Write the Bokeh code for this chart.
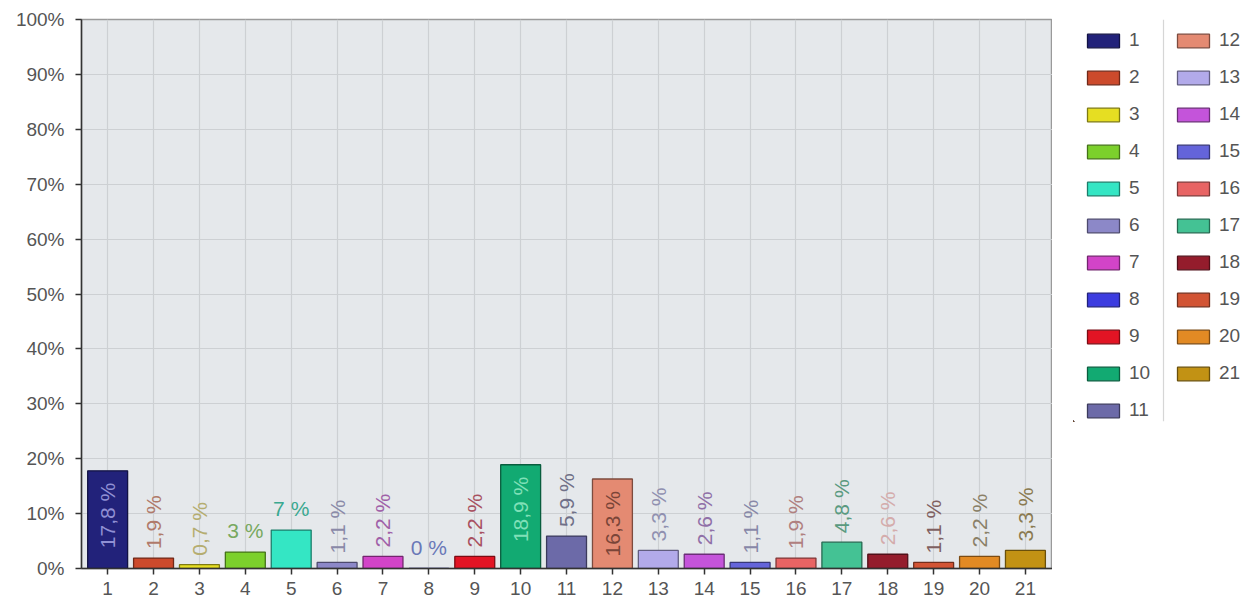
from bokeh.plotting import figure
from bokeh.layouts import row
from bokeh.models import ColumnDataSource, Range1d, FixedTicker, Legend, LegendItem, Span
from bokeh.core.properties import value
from bokeh.embed import file_html
from bokeh.resources import INLINE

# ---- data ----
categories = [str(i) for i in range(1, 22)]
shares = [17.8, 1.9, 0.7, 3, 7, 1.1, 2.2, 0, 2.2, 18.9, 5.9,
          16.3, 3.3, 2.6, 1.1, 1.9, 4.8, 2.6, 1.1, 2.2, 3.3]
bar_colors = ["#22227a", "#cc4a2c", "#e6de22", "#7cd02c", "#34e6c4", "#8c88c8",
              "#d244c8", "#3c3ce0", "#e21424", "#12aa72", "#6c6aa8", "#e48a72",
              "#b2aaea", "#c454da", "#6464da", "#e86464", "#44c294", "#941c2c",
              "#d25434", "#e28a24", "#c29214"]
label_colors = ["#9090d4", "#b07a6a", "#b5ad70", "#78a860", "#3aa890", "#8a8aa8",
                "#a060a8", "#6a78b8", "#a85060", "#80e0b8", "#707088", "#7a4538",
                "#9090b0", "#9070a8", "#8888a8", "#b08080", "#5a9a80", "#d4acac",
                "#806060", "#8a8068", "#8a7a50"]
y_ticks = [0, 10, 20, 30, 40, 50, 60, 70, 80, 90, 100]
y_tick_labels = ["0%", "10%", "20%", "30%", "40%", "50%", "60%", "70%", "80%", "90%", "100%"]


def darker(hex_color, f=0.55):
    r, g, b = (int(hex_color[i:i + 2], 16) for i in (1, 3, 5))
    return "#%02x%02x%02x" % (int(r * f), int(g * f), int(b * f))


def fmt(v):
    s = ("%g" % v).replace(".", ",")
    return s + " %"


xs = list(range(1, len(categories) + 1))
labels = [fmt(v) for v in shares]
inside = [v > 10 for v in shares]
rotated = ["," in s for s in labels]

bar_src = ColumnDataSource(dict(
    x=xs, share=shares, color=bar_colors, line=[darker(c) for c in bar_colors]))


def sub(mask):
    idx = [i for i in range(len(xs)) if mask(i)]
    return ColumnDataSource(dict(
        x=[xs[i] for i in idx], y=[shares[i] for i in idx],
        text=[labels[i] for i in idx], color=[label_colors[i] for i in idx]))


src_rot_out = sub(lambda i: rotated[i] and not inside[i])
src_rot_in = sub(lambda i: rotated[i] and inside[i])
src_flat = sub(lambda i: not rotated[i])

FONT = "Liberation Sans"

p = figure(output_backend="svg", toolbar_location=None,
           frame_width=971, frame_height=549,
           min_border_left=81, min_border_top=19, min_border_right=0, min_border_bottom=0,
           x_range=Range1d(0.43, 21.59), y_range=Range1d(0, 100))

p.background_fill_color = "#e5e8eb"
p.border_fill_color = "white"
p.outline_line_color = "#9a9a9a"
p.outline_line_width = 1.5

p.xgrid.ticker = FixedTicker(ticks=xs)
p.ygrid.ticker = FixedTicker(ticks=y_ticks)
p.grid.grid_line_color = "#cdd0d3"
p.grid.grid_line_width = 1.2

p.xaxis.ticker = FixedTicker(ticks=xs)
p.xaxis.major_label_overrides = {x: c for x, c in zip(xs, categories)}
p.yaxis.ticker = FixedTicker(ticks=y_ticks)
p.yaxis.major_label_overrides = {t: l for t, l in zip(y_ticks, y_tick_labels)}
for ax in (p.xaxis[0], p.yaxis[0]):
    ax.axis_line_color = "#333333"
    ax.axis_line_width = 1.5
    ax.major_tick_line_color = "#333333"
    ax.major_tick_line_width = 1.5
    ax.major_tick_out = 6
    ax.major_tick_in = 0
    ax.minor_tick_out = 0
    ax.minor_tick_in = 0
    ax.major_label_text_font = FONT
    ax.major_label_text_font_size = "19px"
    ax.major_label_text_color = "#555555"
p.yaxis.major_label_standoff = 11
p.xaxis.major_label_standoff = 7

bars = p.vbar(x="x", top="share", width=0.87, source=bar_src,
              fill_color="color", line_color="line", line_width=1.3)

common = dict(text="text", text_color="color", text_font=value(FONT),
              text_font_size="21px")
p.text(x="x", y="y", source=src_rot_out, angle=1.5708, text_align="left",
       text_baseline="middle", x_offset=0, y_offset=-9, **common)
p.text(x="x", y="y", source=src_rot_in, angle=1.5708, text_align="right",
       text_baseline="middle", y_offset=12, **common)
p.text(x="x", y="y", source=src_flat, angle=0, text_align="center",
       text_baseline="bottom", y_offset=-10, **common)

# ---- legend panel (second figure, same data source; its bars lie outside its view) ----
q = figure(output_backend="svg", toolbar_location=None, width=196, height=450,
           x_axis_location=None, y_axis_location=None,
           min_border_left=21, min_border_right=0, min_border_top=0, min_border_bottom=0,
           x_range=Range1d(1000, 1175), y_range=Range1d(1000, 1450))
q.grid.visible = False
q.outline_line_color = None
q.background_fill_color = "white"
q.border_fill_color = "white"
leg_bars = q.vbar(x="x", top="share", width=0.87, source=bar_src,
                  fill_color="color", line_color="line", line_width=1.3)
q.add_layout(Span(location=1090, dimension="height", line_color="#d6d6d6", line_width=1.2))

items = [LegendItem(label=c, renderers=[leg_bars], index=i) for i, c in enumerate(categories)]
legend = Legend(items=items, location="top_left", nrows=11, ncols=2,
                margin=10, padding=0, spacing=15,
                glyph_width=40, glyph_height=17, label_standoff=6,
                label_width=29, label_height=22,
                label_text_font=FONT, label_text_font_size="19px",
                label_text_color="#555555",
                border_line_color=None, background_fill_alpha=0)
q.add_layout(legend)

open("out.html", "w").write(file_html(row(p, q), INLINE))
